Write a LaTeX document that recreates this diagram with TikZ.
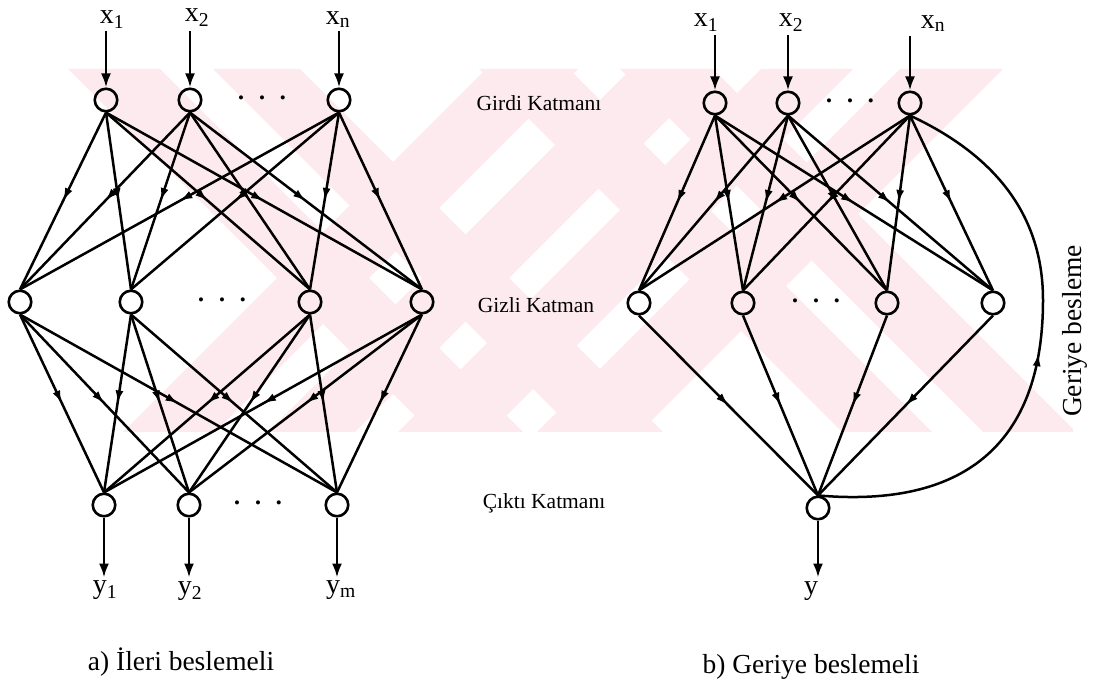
\documentclass[tikz,border=0pt]{standalone}
\usepackage{fontspec}
\setmainfont{Liberation Serif}
\usetikzlibrary{positioning,arrows.meta,decorations.markings}

\definecolor{tezpink}{RGB}{253,234,238}

\newcommand\threedots{\textbullet\hspace{15pt}\textbullet\hspace{15pt}\textbullet}

\tikzset{
    neuron/.style={circle, draw, line width=2.6pt, minimum size=22.5pt, inner sep=0pt},
    synapse/.style={line width=2.5pt, postaction={decorate},
        decoration={markings, mark=at position 0.5 with {\arrow{Latex[length=13pt,width=8pt]}}}},
    feedback/.style={line width=2.5pt, postaction={decorate},
        decoration={markings, mark=at position 0.5 with {\arrow{Latex[length=13pt,width=8pt]}}}},
    signal/.style={line width=2.5pt, -{Latex[length=14pt,width=10pt]}},
    var/.style={font=\fontsize{28}{30}\selectfont, inner sep=0pt},
    layer/.style={font=\fontsize{21.5}{24}\selectfont, inner sep=0pt},
    etc/.style={font=\fontsize{17}{18}\selectfont, inner sep=0pt},
    caption/.style={font=\fontsize{27.5}{30}\selectfont, inner sep=0pt},
}

\begin{document}
\begin{tikzpicture}[x=1pt, y=1pt, on grid]
    \useasboundingbox (0,0) rectangle (1098,-684);

    % background stripes
    \begin{scope}
        \clip (68,-69) rectangle (1073,-432);
        \foreach \a/\b in {-1/91, 144/231, 410/500, 551/644}
            \fill [tezpink] (69+\a,-69) -- (69+\b,-69) -- (432+\b,-432) -- (432+\a,-432) -- cycle;
        \foreach \a/\b in {555/647, 700/787, 830/922, 969/1072}
            \fill [tezpink] (\a-69,-69) -- (\b-69,-69) -- (\b-432,-432) -- (\a-432,-432) -- cycle;
    \end{scope}

    % a) feed-forward
    \node [neuron] (i1) at (106,-100) {};
    \node [neuron, right=84pt of i1] (i2) {};
    \node [neuron, right=149pt of i2] (i3) {};
    \node [etc, right=72pt of i2] (di) {\threedots};

    \node [neuron] (h1) at (20,-302) {};
    \node [neuron, right=111pt of h1] (h2) {};
    \node [neuron, right=179pt of h2] (h3) {};
    \node [neuron, right=112pt of h3] (h4) {};
    \node [etc, right=91pt of h2] (dh) {\threedots};

    \node [neuron] (o1) at (104,-505) {};
    \node [neuron, right=85pt of o1] (o2) {};
    \node [neuron, right=148pt of o2] (o3) {};
    \node [etc, right=69pt of o2] (do) {\threedots};

    \coordinate [above=56pt of i1.north] (u1);
    \coordinate [above=56pt of i2.north] (u2);
    \coordinate [above=56pt of i3.north] (u3);
    \node [var] (x1) at ([shift={(6,12)}] u1) {x\textsubscript{1}};
    \node [var] (x2) at ([shift={(7,14)}] u2) {x\textsubscript{2}};
    \node [var] (xn) at ([shift={(-1,12)}] u3) {x\textsubscript{n}};

    \coordinate [below=60pt of o1.south] (v1);
    \coordinate [below=60pt of o2.south] (v2);
    \coordinate [below=60pt of o3.south] (v3);
    \node [var] (y1) at ([shift={(1,-13)}] v1) {y\textsubscript{1}};
    \node [var] (y2) at ([shift={(1,-14)}] v2) {y\textsubscript{2}};
    \node [var] (ym) at ([shift={(4,-13)}] v3) {y\textsubscript{m}};

    \foreach \n in {1,2,3} {
        \draw [signal] (u\n) -- (i\n);
        \draw [signal] (o\n) -- (v\n);
    }
    \foreach \a in {i1,i2,i3}
        \foreach \b in {h1,h2,h3,h4}
            \draw [synapse] (\a.south) -- (\b.north);
    \foreach \a in {h1,h2,h3,h4}
        \foreach \b in {o1,o2,o3}
            \draw [synapse] (\a.south) -- (\b.north);

    % b) with feedback
    \node [neuron] (j1) at (715,-103) {};
    \node [neuron, right=73pt of j1] (j2) {};
    \node [neuron, right=122pt of j2] (j3) {};
    \node [etc, right=62pt of j2] (dj) {\threedots};

    \node [neuron] (k1) at (639,-303) {};
    \node [neuron, right=104pt of k1] (k2) {};
    \node [neuron, right=144pt of k2] (k3) {};
    \node [neuron, right=106pt of k3] (k4) {};
    \node [etc, right=73pt of k2] (dk) {\threedots};

    \node [neuron] (yo) at (818,-508) {};

    \coordinate [above=55pt of j1.north] (w1);
    \coordinate [above=55pt of j2.north] (w2);
    \coordinate [above=54pt of j3.north] (w3);
    \node [var] (z1) at ([shift={(-9,13)}] w1) {x\textsubscript{1}};
    \node [var] (z2) at ([shift={(3,13)}] w2) {x\textsubscript{2}};
    \node [var] (zn) at ([shift={(23,13)}] w3) {x\textsubscript{n}};

    \coordinate [below=57pt of yo.south] (vy);
    \node [var] (ylab) at ([shift={(-7,-14)}] vy) {y};

    \foreach \n in {1,2,3}
        \draw [signal] (w\n) -- (j\n);
    \draw [signal] (yo) -- (vy);
    \foreach \a in {j1,j2,j3}
        \foreach \b in {k1,k2,k3,k4}
            \draw [synapse] (\a.south) -- (\b.north);
    \foreach \a in {k1,k2,k3,k4}
        \draw [synapse] (\a.south) -- (yo.north);

    \coordinate (fb) at (1043,-300);
    \draw [feedback] (yo.north) to [out=-5, in=-90, looseness=1.25] (fb)
        to [out=90, in=-25] (j3.south);

    % layer names and captions
    \node [layer] (girdi) at (539,-103) {Girdi Katmanı};
    \node [layer] (gizli) at (536,-305) {Gizli Katman};
    \node [layer] (cikti) at (544,-503) {Çıktı Katmanı};
    \node [caption, rotate=90] (geri) at (1075,-331) {Geriye besleme};
    \node [caption] (capa) at (181,-662) {a) İleri beslemeli};
    \node [caption] (capb) at (811,-667) {b) Geriye beslemeli};
\end{tikzpicture}
\end{document}
